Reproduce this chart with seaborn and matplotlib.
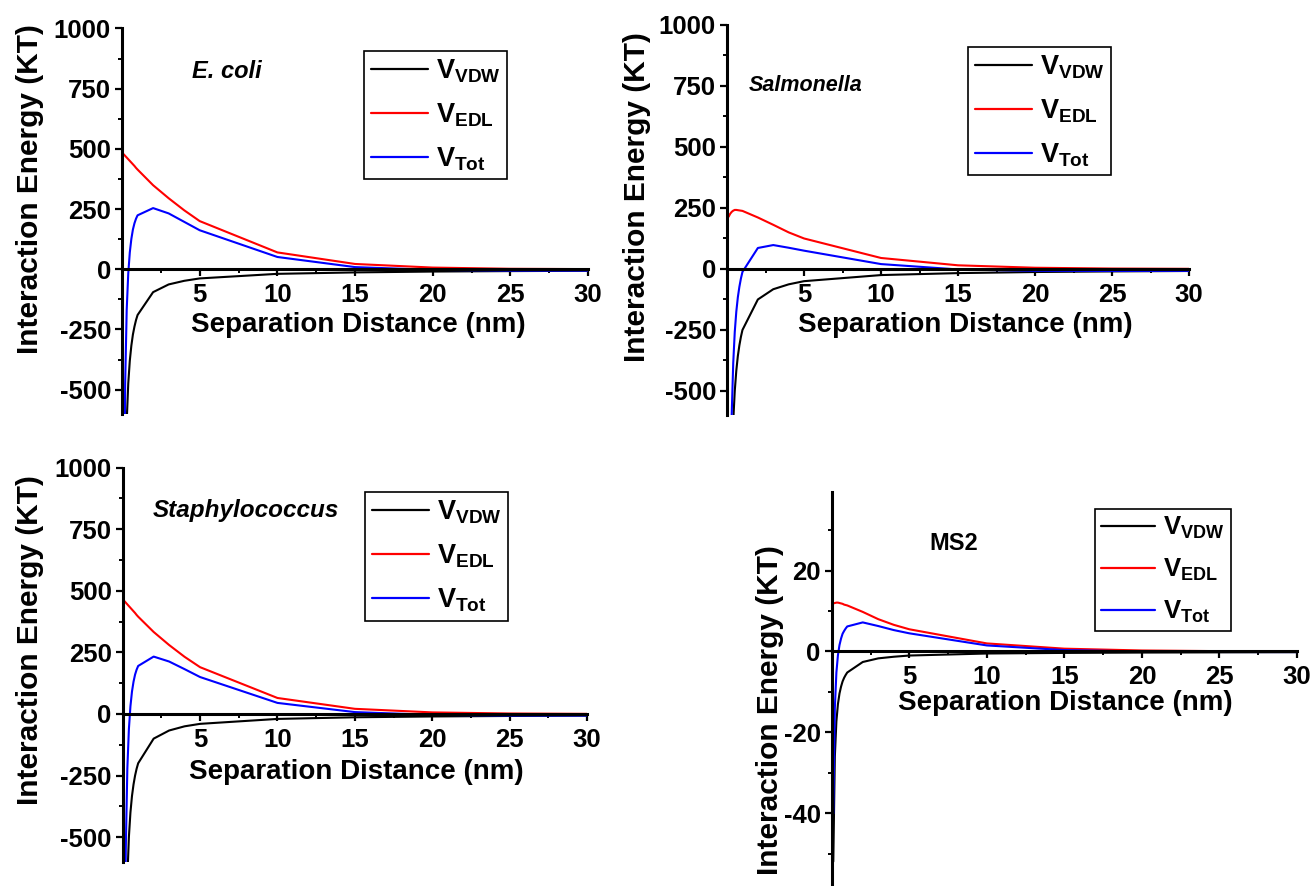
import numpy as np
import pandas as pd
import matplotlib
matplotlib.use('Agg')
import matplotlib.pyplot as plt
import seaborn as sns

# separation distance (nm)
dist = [0.1, 0.2, 0.3, 0.4, 0.5, 0.6, 0.7, 0.8, 0.9, 1, 2, 3, 4, 5, 10, 15, 20, 25, 30]

# E. coli
ecoli_vdw = [-1900, -950, -633, -475, -380, -317, -271, -238, -211, -190, -95, -63, -48, -38, -19, -13, -9.5, -7.6, -6.3]
ecoli_edl = [478, 471, 464, 457, 450, 443, 436, 429, 421, 414, 349, 295, 245, 200, 70, 22, 7, 2, 0.7]
ecoli_tot = [-1422, -479, -169, -18, 70, 126, 165, 191, 210, 224, 254, 232, 197, 162, 51, 9, -2.5, -5.6, -5.6]

# Salmonella
salm_vdw = [-2500, -1250, -833, -625, -500, -417, -357, -313, -278, -250, -125, -83, -63, -50, -25, -17, -12.5, -10, -8.3]
salm_edl = [214, 226, 234, 239, 242, 242, 241, 240, 239, 238, 211, 181, 150, 125, 45, 15, 5, 1.7, 0.6]
salm_tot = [-2286, -1024, -599, -386, -258, -175, -116, -73, -39, -12, 86, 98, 87, 75, 20, -2, -7.5, -8.3, -7.7]

# Staphylococcus
staph_vdw = [-2000, -1000, -667, -500, -400, -333, -286, -250, -222, -200, -100, -67, -50, -40, -20, -13.3, -10, -8, -6.7]
staph_edl = [459, 452, 445, 438, 431, 424, 417, 410, 402, 395, 333, 280, 232, 190, 65, 21, 6.5, 2, 0.6]
staph_tot = [-1541, -548, -222, -62, 31, 91, 131, 160, 180, 195, 233, 213, 182, 150, 45, 7.7, -3.5, -6, -6.1]

# MS2
ms2_vdw = [-52, -26, -17.3, -13, -10.4, -8.7, -7.4, -6.5, -5.8, -5.2, -2.6, -1.7, -1.3, -1.0, -0.5, -0.35, -0.26, -0.21, -0.17]
ms2_edl = [11.9, 12.0, 12.1, 12.1, 12.0, 11.9, 11.8, 11.6, 11.5, 11.4, 9.8, 8.0, 6.6, 5.5, 2.0, 0.7, 0.25, 0.09, 0.03]
ms2_tot = [-40.1, -14, -5.2, -0.9, 1.6, 3.2, 4.4, 5.1, 5.7, 6.2, 7.2, 6.3, 5.3, 4.5, 1.5, 0.35, 0.0, -0.12, -0.14]

terms = [r'$\mathrm{V_{VDW}}$', r'$\mathrm{V_{EDL}}$', r'$\mathrm{V_{Tot}}$']
colors = ['black', '#ff0000', '#0000ff']

sns.set_style('ticks')
plt.rcParams['font.family'] = ['Liberation Sans', 'DejaVu Sans']
plt.rcParams['font.weight'] = 'bold'
plt.rcParams['axes.labelweight'] = 'bold'
plt.rcParams['axes.unicode_minus'] = False
plt.rcParams['text.color'] = 'black'
plt.rcParams['axes.labelcolor'] = 'black'
plt.rcParams['axes.edgecolor'] = 'black'
plt.rcParams['xtick.color'] = 'black'
plt.rcParams['ytick.color'] = 'black'
plt.rcParams['mathtext.fontset'] = 'custom'
plt.rcParams['mathtext.rm'] = 'Liberation Sans:bold'
plt.rcParams['mathtext.it'] = 'Liberation Sans:bold'
plt.rcParams['mathtext.bf'] = 'Liberation Sans:bold'

fig = plt.figure(figsize=(13.15, 8.86), dpi=100)

panels = [
    dict(name='E. coli', data=(ecoli_vdw, ecoli_edl, ecoli_tot),
         rect=[0.0928, 0.5330, 0.3544, 0.4349], ylim=(-600, 1000),
         major=[-500, -250, 0, 250, 500, 750, 1000], minor=[-375, -125, 125, 375, 625, 875],
         txt=(0.225, 0.887), tsize=17, tstyle='italic',
         leg=(0.519, 0.942), lsize=19.5,
         ylab=(-0.197, 0.583), xlab=(0.506, 0.230)),
    dict(name='Salmonella', data=(salm_vdw, salm_edl, salm_tot),
         rect=[0.5529, 0.5312, 0.3513, 0.4406], ylim=(-600, 1000),
         major=[-500, -250, 0, 250, 500, 750, 1000], minor=[-375, -125, 125, 375, 625, 875],
         txt=(0.169, 0.844), tsize=15.5, tstyle='italic',
         leg=(0.522, 0.944), lsize=19.5,
         ylab=(-0.195, 0.559), xlab=(0.515, 0.232)),
    dict(name='Staphylococcus', data=(staph_vdw, staph_edl, staph_tot),
         rect=[0.0933, 0.0273, 0.3531, 0.4449], ylim=(-600, 1000),
         major=[-500, -250, 0, 250, 500, 750, 1000], minor=[-375, -125, 125, 375, 625, 875],
         txt=(0.266, 0.892), tsize=17.5, tstyle='italic',
         leg=(0.522, 0.938), lsize=19.5,
         ylab=(-0.200, 0.563), xlab=(0.503, 0.228)),
    dict(name='MS2', data=(ms2_vdw, ms2_edl, ms2_tot),
         rect=[0.6325, 0.0002, 0.3538, 0.4446], ylim=(-58, 39.5),
         major=[-40, -20, 0, 20], minor=[-50, -30, -10, 10, 30],
         txt=(0.263, 0.870), tsize=17, tstyle='normal',
         leg=(0.566, 0.957), lsize=18.5,
         ylab=(-0.133, 0.446), xlab=(0.501, 0.464)),
]

for p in panels:
    ax = fig.add_axes(p['rect'])
    df = pd.DataFrame({
        'x': dist * 3,
        'V': list(p['data'][0]) + list(p['data'][1]) + list(p['data'][2]),
        'term': [terms[0]] * len(dist) + [terms[1]] * len(dist) + [terms[2]] * len(dist),
    })
    sns.lineplot(data=df, x='x', y='V', hue='term', hue_order=terms, palette=colors,
                 estimator=None, sort=False, linewidth=1.5, ax=ax)

    ax.set_xlim(0, 30)
    ax.set_ylim(*p['ylim'])
    for s in ['top', 'right']:
        ax.spines[s].set_visible(False)
    ax.spines['left'].set_position(('data', 0))
    ax.spines['bottom'].set_position(('data', 0))
    for s in ['left', 'bottom']:
        ax.spines[s].set_linewidth(2.2)
        ax.spines[s].set_color('black')

    ax.set_xticks([5, 10, 15, 20, 25, 30])
    ax.set_xticks([2.5, 7.5, 12.5, 17.5, 22.5, 27.5], minor=True)
    ax.set_yticks(p['major'])
    ax.set_yticks(p['minor'], minor=True)
    ax.tick_params(axis='both', which='major', direction='out', length=5, width=1.6, labelsize=18.5,
                   color='black', labelcolor='black')
    ax.tick_params(axis='both', which='minor', direction='out', length=3, width=1.4, color='black')
    ax.tick_params(axis='x', which='major', pad=5)
    ax.tick_params(axis='y', which='major', pad=3)
    for lab in ax.get_xticklabels() + ax.get_yticklabels():
        lab.set_fontweight('bold')

    ax.set_xlabel('Separation Distance (nm)', fontsize=20, fontweight='bold', va='center', color='black')
    ax.xaxis.set_label_coords(*p['xlab'])
    ax.set_ylabel('Interaction Energy (KT)', fontsize=21.5, fontweight='bold', va='center', color='black')
    ax.yaxis.set_label_coords(*p['ylab'])

    ax.text(p['txt'][0], p['txt'][1], p['name'], transform=ax.transAxes, ha='center', va='center',
            fontsize=p['tsize'], fontweight='bold', style=p['tstyle'], color='black')

    handles, labels = ax.get_legend_handles_labels()
    leg = ax.legend(handles, labels, loc='upper left', bbox_to_anchor=p['leg'], borderaxespad=0,
                    fontsize=p['lsize'], frameon=True, fancybox=False, framealpha=1,
                    handlelength=2.1, handletextpad=0.3, labelspacing=0.6, borderpad=0.25)
    leg.get_frame().set_edgecolor('black')
    leg.get_frame().set_linewidth(1.2)
    for t in leg.get_texts():
        t.set_color('black')
    for line in leg.get_lines():
        line.set_linewidth(1.6)

plt.savefig('out.png', dpi=100)
